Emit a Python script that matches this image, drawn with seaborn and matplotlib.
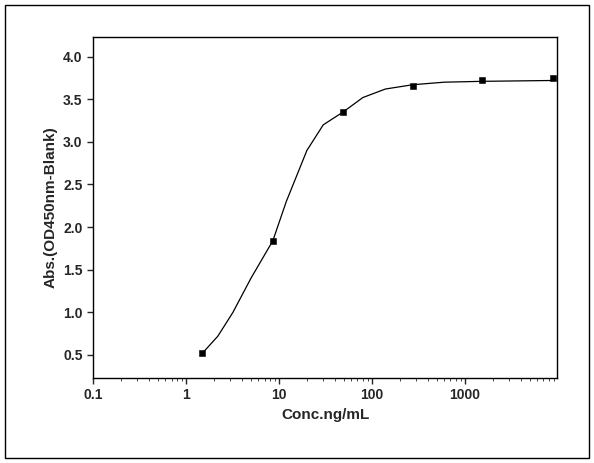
import matplotlib
matplotlib.use("Agg")
import matplotlib.pyplot as plt
import seaborn as sns
from matplotlib.patches import Rectangle

conc = [1.5, 8.6, 49, 275, 1540, 8900]
absv = [0.52, 1.84, 3.35, 3.65, 3.72, 3.75]
fit_x = [1.5, 2.2, 3.2, 5, 8.6, 12, 20, 30, 49, 80, 140, 275, 600, 1540, 8900]
fit_y = [0.52, 0.72, 1.0, 1.4, 1.84, 2.3, 2.9, 3.2, 3.35, 3.52, 3.62, 3.67, 3.70, 3.71, 3.72]
xticks = [0.1, 1, 10, 100, 1000]
xticklabels = ["0.1", "1", "10", "100", "1000"]
yticks = [0.5, 1.0, 1.5, 2.0, 2.5, 3.0, 3.5, 4.0]

sns.set_style("ticks")
plt.rcParams['font.family'] = ['Liberation Sans', 'DejaVu Sans']
plt.rcParams['font.weight'] = 'bold'

fig = plt.figure(figsize=(5.94, 4.63), dpi=100)
ax = fig.add_axes([93/594, 1-378/463, (557-93)/594, (378-37)/463])
sns.lineplot(x=fit_x, y=fit_y, ax=ax, color='black', linewidth=0.9)
sns.scatterplot(x=conc, y=absv, ax=ax, marker='s', color='black', s=25, edgecolor='black', zorder=3)
ax.set_xscale('log')
ax.set_xlim(0.1, 9800)
ax.set_ylim(0.23, 4.23)
ax.set_xticks(xticks)
ax.set_xticklabels(xticklabels)
ax.set_yticks(yticks)
ax.set_yticklabels([f"{v:.1f}" for v in yticks])
ax.tick_params(labelsize=10, direction='out', length=4, width=1)
ax.tick_params(which='minor', length=2, direction='out')
for s in ax.spines.values():
    s.set_visible(True); s.set_linewidth(1); s.set_color('black')
ax.set_xlabel("Conc.ng/mL", fontsize=11, fontweight='bold')
ax.set_ylabel("Abs.(OD450nm-Blank)", fontsize=11, fontweight='bold')
fig.patches.append(Rectangle((5/594, 5/463), 584/594, 453/463, transform=fig.transFigure,
                             fill=False, edgecolor='black', linewidth=1))
fig.savefig("out.png", dpi=100)
